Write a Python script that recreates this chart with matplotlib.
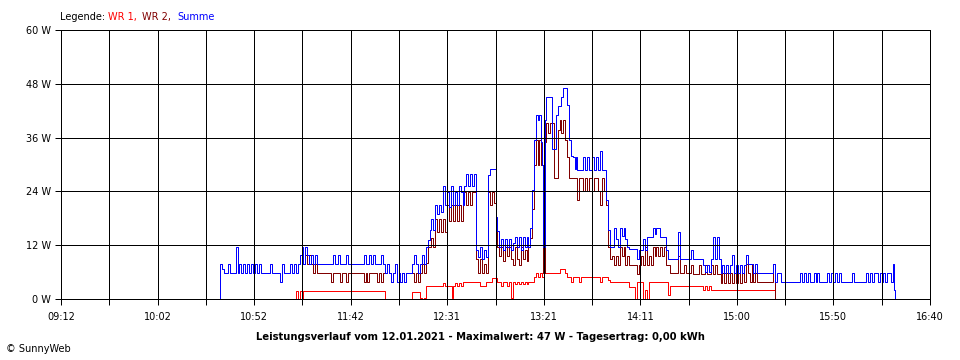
import matplotlib
matplotlib.use("Agg")
import matplotlib.pyplot as plt
import numpy as np

# Zeitachse und Beschriftungen
x_labels = ["09:12", "10:02", "10:52", "11:42", "12:31", "13:21", "14:11", "15:00", "15:50", "16:40"]
y_values = [0, 12, 24, 36, 48, 60]

# Summe (blau)
summe = [
    ("10:33", 0.0), ("10:34", 7.7), ("10:35", 6.6), ("10:36", 5.7), ("10:38", 7.7), ("10:39", 5.7),
    ("10:42", 11.7), ("10:43", 5.7), ("10:44", 7.7), ("10:45", 5.7), ("10:46", 7.7),
    ("10:47", 5.7), ("10:48", 7.7), ("10:49", 5.7), ("10:50", 7.7), ("10:51", 5.7),
    ("10:52", 7.7), ("10:53", 5.7), ("10:54", 7.7), ("10:55", 5.7), ("11:00", 7.7),
    ("11:01", 5.7), ("11:05", 3.7), ("11:06", 7.7), ("11:07", 5.7), ("11:10", 7.7),
    ("11:11", 5.7), ("11:12", 7.7), ("11:13", 5.7), ("11:14", 7.7), ("11:15", 9.8),
    ("11:16", 11.7), ("11:17", 7.7), ("11:18", 11.7), ("11:19", 9.8), ("11:20", 7.7),
    ("11:21", 9.8), ("11:22", 7.7), ("11:23", 9.8), ("11:24", 7.7), ("11:32", 9.8),
    ("11:33", 7.7), ("11:35", 9.8), ("11:36", 7.7), ("11:39", 9.8), ("11:40", 7.7),
    ("11:48", 9.8), ("11:49", 7.7), ("11:51", 9.8), ("11:52", 7.7), ("11:53", 9.8),
    ("11:54", 7.7), ("11:57", 9.8), ("11:58", 7.7), ("11:59", 5.7), ("12:00", 7.7),
    ("12:01", 5.7), ("12:02", 3.7), ("12:03", 5.7), ("12:04", 7.7), ("12:05", 3.7),
    ("12:06", 5.7), ("12:07", 3.7), ("12:08", 5.7), ("12:09", 3.7), ("12:10", 5.7),
    ("12:13", 7.7), ("12:14", 9.8), ("12:15", 7.7), ("12:16", 5.7), ("12:17", 7.7),
    ("12:18", 9.8), ("12:19", 7.7), ("12:20", 11.7), ("12:21", 13.2), ("12:22", 15.4),
    ("12:23", 17.8), ("12:24", 15.4), ("12:25", 21.0), ("12:26", 19.0), ("12:27", 21.0),
    ("12:28", 19.5), ("12:29", 25.2), ("12:30", 21.0), ("12:31", 23.8), ("12:32", 20.6),
    ("12:33", 25.2), ("12:34", 21.0), ("12:35", 23.8), ("12:36", 21.0), ("12:37", 25.2),
    ("12:38", 23.8), ("12:39", 21.0), ("12:40", 25.2), ("12:41", 27.8), ("12:42", 25.2),
    ("12:43", 27.8), ("12:44", 25.2), ("12:45", 27.8), ("12:46", 11.0), ("12:47", 9.4),
    ("12:48", 11.7), ("12:49", 8.9), ("12:50", 11.0), ("12:51", 9.4), ("12:52", 27.7),
    ("12:53", 29.0), ("12:56", 18.4), ("12:57", 15.2), ("12:58", 11.7), ("12:59", 13.3),
    ("13:00", 11.0), ("13:01", 13.3), ("13:02", 11.7), ("13:03", 13.3), ("13:04", 11.0),
    ("13:05", 12.5), ("13:06", 13.9), ("13:07", 11.7), ("13:08", 13.9), ("13:09", 11.0),
    ("13:10", 13.9), ("13:11", 11.7), ("13:12", 13.9), ("13:13", 11.7), ("13:14", 15.8),
    ("13:15", 24.3), ("13:16", 35.5), ("13:17", 41.0), ("13:18", 40.0), ("13:18:30", 41.0),
    ("13:19:30", 35.0), ("13:20", 30.0), ("13:20:30", 11.7), ("13:21:30", 40.0), ("13:22", 45.0),
    ("13:25", 33.5), ("13:27", 41.0), ("13:28", 43.0), ("13:30", 45.0), ("13:31", 47.0),
    ("13:33", 43.3), ("13:34", 35.5), ("13:35", 32.0), ("13:36", 31.7), ("13:37", 29.0),
    ("13:37:30", 31.7), ("13:38", 28.8), ("13:41", 31.7), ("13:42", 28.8), ("13:43", 31.7),
    ("13:44", 28.8), ("13:46", 31.7), ("13:47", 28.8), ("13:48", 31.7), ("13:49", 28.8),
    ("13:50", 32.9), ("13:51", 28.8), ("13:53", 22.0), ("13:54", 15.4), ("13:55", 11.7),
    ("13:57", 15.8), ("13:58", 13.3), ("13:59", 11.7), ("14:00", 15.8), ("14:01", 14.0),
    ("14:02", 15.8), ("14:03", 13.3), ("14:04", 11.7), ("14:05", 11.2), ("14:09", 9.0),
    ("14:10", 11.0), ("14:12", 13.3), ("14:13", 11.0), ("14:14", 13.9), ("14:17", 15.8),
    ("14:18", 14.5), ("14:19", 15.8), ("14:21", 13.9), ("14:24", 11.0), ("14:25", 9.0),
    ("14:30", 15.0), ("14:31", 9.0), ("14:37", 11.0), ("14:38", 9.0), ("14:43", 7.6),
    ("14:44", 6.0), ("14:45", 7.6), ("14:46", 6.0), ("14:47", 9.0), ("14:48", 13.9),
    ("14:49", 9.0), ("14:50", 13.9), ("14:51", 9.0), ("14:52", 5.7), ("14:53", 7.6),
    ("14:54", 5.7), ("14:55", 7.6), ("14:56", 5.7), ("14:57", 7.6), ("14:58", 9.8),
    ("14:59", 5.7), ("15:00", 7.6), ("15:01", 5.7), ("15:02", 7.6), ("15:03", 5.7),
    ("15:04", 7.6), ("15:05", 9.8), ("15:06", 7.7), ("15:09", 5.7), ("15:10", 7.7),
    ("15:11", 5.7), ("15:19", 7.7), ("15:20", 3.7), ("15:21", 5.7), ("15:23", 3.7),
    ("15:33", 5.7), ("15:34", 3.7), ("15:35", 5.7), ("15:36", 3.7), ("15:37", 5.7),
    ("15:38", 3.7), ("15:40", 5.7), ("15:41", 3.7), ("15:42", 5.7), ("15:43", 3.7),
    ("15:47", 5.7), ("15:48", 3.7), ("15:49", 5.7), ("15:50", 3.7), ("15:51", 5.7),
    ("15:52", 3.7), ("15:53", 5.7), ("15:54", 3.7), ("16:00", 5.7), ("16:01", 3.7),
    ("16:07", 5.7), ("16:08", 3.7), ("16:09", 5.7), ("16:10", 3.7), ("16:11", 5.7),
    ("16:13", 3.7), ("16:14", 5.7), ("16:15", 3.7), ("16:16", 5.7), ("16:17", 3.7),
    ("16:18", 5.7), ("16:20", 3.7), ("16:21", 7.7), ("16:21:30", 2.0), ("16:22", 0.0),
]

# WR 2 (dunkelrot)
wr2 = [
    ("11:15", 0.0), ("11:16", 9.8), ("11:17", 7.7), ("11:18", 9.8), ("11:19", 7.7),
    ("11:20", 9.8), ("11:21", 7.7), ("11:22", 5.7), ("11:23", 7.7), ("11:24", 5.7),
    ("11:31", 3.7), ("11:32", 5.7), ("11:36", 3.7), ("11:37", 5.7), ("11:39", 3.7),
    ("11:40", 5.7), ("11:48", 3.7), ("11:49", 5.7), ("11:50", 3.7), ("11:51", 5.7),
    ("11:55", 3.7), ("11:56", 5.7), ("11:57", 3.7), ("11:58", 5.7), ("12:00", 7.7),
    ("12:01", 5.7), ("12:02", 3.7), ("12:03", 5.7), ("12:04", 7.7), ("12:05", 3.7),
    ("12:06", 5.7), ("12:07", 3.7), ("12:08", 5.7), ("12:09", 3.7), ("12:10", 5.7),
    ("12:14", 3.7), ("12:15", 5.7), ("12:16", 3.7), ("12:17", 5.7), ("12:18", 7.7),
    ("12:19", 5.7), ("12:20", 8.0), ("12:21", 11.7), ("12:23", 13.7), ("12:24", 11.7),
    ("12:25", 17.8), ("12:26", 15.0), ("12:27", 17.8), ("12:28", 15.0), ("12:29", 17.8),
    ("12:30", 15.0), ("12:31", 21.0), ("12:32", 17.4), ("12:33", 21.0), ("12:34", 17.4),
    ("12:35", 21.0), ("12:36", 17.4), ("12:37", 21.0), ("12:38", 17.4), ("12:39", 23.8),
    ("12:41", 21.0), ("12:42", 23.8), ("12:43", 21.0), ("12:44", 23.8), ("12:46", 8.9),
    ("12:47", 5.7), ("12:48", 8.9), ("12:49", 5.7), ("12:50", 7.7), ("12:51", 5.7),
    ("12:52", 23.8), ("12:53", 21.0), ("12:54", 23.8), ("12:55", 21.5), ("12:56", 15.2),
    ("12:57", 11.7), ("12:58", 9.5), ("12:59", 11.7), ("13:00", 8.5), ("13:01", 11.7),
    ("13:02", 9.5), ("13:03", 11.7), ("13:04", 8.9), ("13:05", 7.6), ("13:06", 11.7),
    ("13:07", 8.9), ("13:08", 7.6), ("13:09", 11.7), ("13:10", 8.9), ("13:11", 11.0),
    ("13:12", 8.5), ("13:13", 11.7), ("13:14", 13.7), ("13:15", 20.0), ("13:16", 30.0),
    ("13:17", 35.5), ("13:18", 30.0), ("13:18:30", 35.5), ("13:19:30", 30.0),
    ("13:20:30", 5.8), ("13:21:30", 35.0), ("13:22", 39.2), ("13:23", 37.0), ("13:24", 39.2),
    ("13:26", 27.0), ("13:28", 37.7), ("13:29", 40.0), ("13:30", 37.0), ("13:31", 40.0),
    ("13:32", 35.5), ("13:33", 31.7), ("13:34", 27.0), ("13:38", 22.0), ("13:39", 27.0),
    ("13:41", 24.0), ("13:42", 27.0), ("13:43", 24.0), ("13:44", 27.0), ("13:46", 24.0),
    ("13:47", 27.0), ("13:49", 24.0), ("13:50", 21.0), ("13:51", 27.0), ("13:52", 24.0),
    ("13:53", 21.0), ("13:54", 11.7), ("13:55", 8.9), ("13:56", 9.5), ("13:57", 7.6),
    ("13:58", 9.5), ("13:59", 7.6), ("14:00", 11.7), ("14:01", 9.5), ("14:02", 11.7),
    ("14:03", 7.6), ("14:04", 9.5), ("14:05", 7.6), ("14:09", 5.5), ("14:10", 7.6),
    ("14:11", 9.5), ("14:12", 7.6), ("14:13", 11.7), ("14:14", 7.6), ("14:15", 9.5),
    ("14:16", 7.6), ("14:17", 11.7), ("14:18", 9.5), ("14:19", 11.7), ("14:20", 9.5),
    ("14:21", 11.7), ("14:22", 9.5), ("14:23", 11.7), ("14:24", 7.6), ("14:26", 5.9),
    ("14:30", 9.5), ("14:31", 5.9), ("14:33", 7.6), ("14:34", 5.9), ("14:37", 7.6),
    ("14:38", 5.6), ("14:41", 7.6), ("14:42", 5.6), ("14:44", 7.6), ("14:45", 5.6),
    ("14:47", 7.6), ("14:48", 5.6), ("14:49", 7.6), ("14:50", 5.6), ("14:52", 3.6),
    ("14:53", 5.7), ("14:54", 3.6), ("14:55", 5.7), ("14:56", 3.6), ("14:57", 5.7),
    ("14:58", 3.6), ("14:59", 5.7), ("15:00", 3.6), ("15:01", 5.7), ("15:02", 3.6),
    ("15:03", 5.7), ("15:04", 3.7), ("15:05", 7.7), ("15:06", 5.7), ("15:07", 3.7),
    ("15:08", 7.7), ("15:09", 3.7), ("15:10", 5.7), ("15:11", 3.7), ("15:19", 7.7),
    ("15:20", 0.0),
]

# WR 1 (rot)
wr1 = [
    ("11:12", 0.0), ("11:13", 1.8), ("11:14", 0.0), ("11:15", 1.8), ("11:16", 0.0),
    ("11:17", 1.8), ("11:59", 0.0), ("12:13", 1.6), ("12:17", 0.3), ("12:18", 0.0),
    ("12:19", 0.3), ("12:20", 2.9), ("12:29", 3.6), ("12:30", 2.9), ("12:33:30", 0.2),
    ("12:34", 2.9), ("12:35", 3.6), ("12:36", 2.9), ("12:37", 3.6), ("12:38", 2.9),
    ("12:39", 3.7), ("12:48", 2.9), ("12:51", 3.7), ("12:54", 4.6), ("12:57", 3.7),
    ("12:59", 2.9), ("13:00", 3.7), ("13:02", 2.9), ("13:03", 3.7), ("13:04", 0.2),
    ("13:05", 3.9), ("13:06", 3.3), ("13:07", 3.9), ("13:08", 3.3), ("13:09", 3.9),
    ("13:10", 3.3), ("13:11", 3.9), ("13:12", 3.3), ("13:13", 3.9), ("13:16", 4.8),
    ("13:17", 5.7), ("13:18", 4.8), ("13:19", 5.7), ("13:20", 4.9), ("13:21", 5.9),
    ("13:29", 6.8), ("13:32", 5.9), ("13:33", 4.9), ("13:35", 3.9), ("13:36", 4.9),
    ("13:39", 3.9), ("13:40", 4.9), ("13:50", 3.9), ("13:51", 4.9), ("13:54", 4.3),
    ("13:55", 3.7), ("14:05", 2.7), ("14:08", 0.0), ("14:09", 3.7), ("14:12", 0.0),
    ("14:13", 2.0), ("14:14", 0.0), ("14:15", 3.7), ("14:25", 0.9), ("14:26", 2.9),
    ("14:43", 2.0), ("14:44", 2.9), ("14:45", 2.0), ("14:46", 2.9), ("14:47", 2.0),
    ("15:20", 0.0),
]


def to_min(s):
    parts = [int(p) for p in s.split(":")]
    m = parts[0] * 60 + parts[1]
    if len(parts) == 3:
        m += parts[2] / 60
    return m


def split(series):
    t = [to_min(a) for a, _ in series]
    w = [b for _, b in series]
    return t, w


px = 0.72  # eine Pixelbreite in Punkt bei 100 dpi

fig = plt.figure(figsize=(9.6, 3.6), dpi=100)
ax = fig.add_axes([61 / 960, 1 - 299 / 360, 869 / 960, 269 / 360])

for series, col in [(wr1, "#ff0000"), (wr2, "#800000"), (summe, "#0000ff")]:
    t, w = split(series)
    line, = ax.step(t, w, where="post", color=col, lw=px)
    line.set_snap(True)

x0, x1 = to_min(x_labels[0]), to_min(x_labels[-1])
ticks = np.linspace(x0, x1, 2 * len(x_labels) - 1)
ax.set_xlim(x0, x1)
ax.set_ylim(0, 60)
ax.set_xticks(ticks)
ax.set_xticklabels([x_labels[i // 2] if i % 2 == 0 else "" for i in range(len(ticks))])
ax.set_yticks(y_values)
ax.set_yticklabels([f"{v} W" for v in y_values])

ax.set_axisbelow(False)
ax.grid(True, color="black", lw=px)
for sp in ax.spines.values():
    sp.set_linewidth(px)
    sp.set_color("black")
ax.tick_params(direction="out", length=4, width=px, labelsize=7, colors="black")
ax.tick_params(axis="x", pad=5)
ax.tick_params(axis="y", pad=3)

# Legende oben
fs = 7
fig.text(60 / 960, 1 - 20 / 360, "Legende:", fontsize=fs, color="black", va="baseline")
fig.text(108 / 960, 1 - 20 / 360, "WR 1,", fontsize=fs, color="#ff0000", va="baseline")
fig.text(142 / 960, 1 - 20 / 360, "WR 2,", fontsize=fs, color="#800000", va="baseline")
fig.text(177 / 960, 1 - 20 / 360, "Summe", fontsize=fs, color="#0000ff", va="baseline")

fig.text(0.5, 1 - 339.5 / 360,
         "Leistungsverlauf vom 12.01.2021 - Maximalwert: 47 W - Tagesertrag: 0,00 kWh",
         fontsize=7.2, fontweight="bold", ha="center", va="baseline")
fig.text(6 / 960, 1 - 352 / 360, "\u00a9 SunnyWeb", fontsize=7, va="baseline")

fig.savefig("out.png", dpi=100)
